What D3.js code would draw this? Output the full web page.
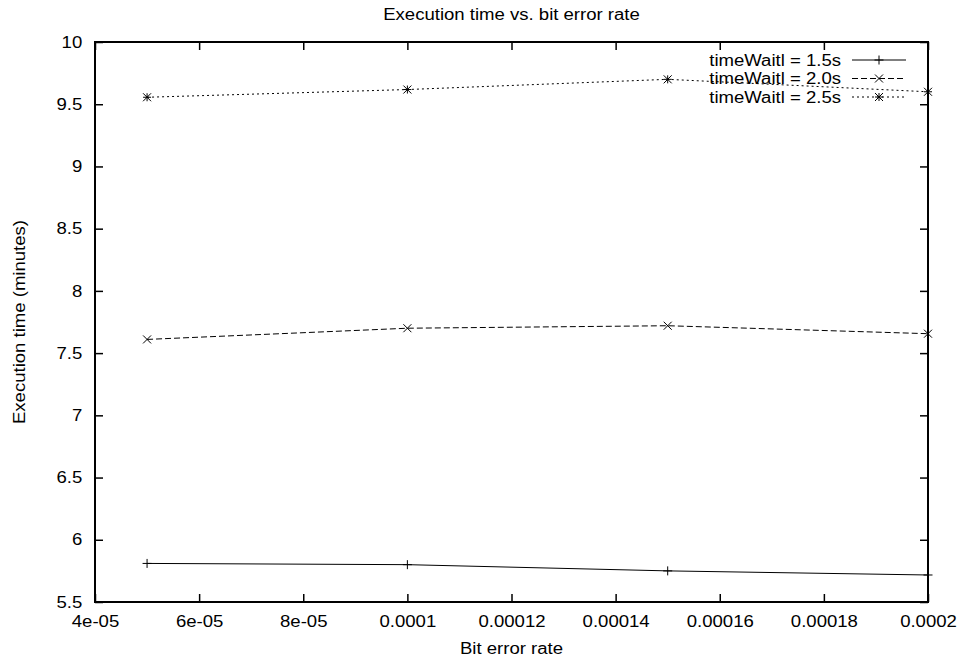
<!DOCTYPE html>
<html>
<head>
<meta charset="utf-8">
<script src="https://cdn.jsdelivr.net/npm/d3@7"></script>
<style>
  body { margin: 0; background: #fff; }
  text { font-family: "Liberation Sans", Arial, sans-serif; font-size: 16px; fill: #000; }
</style>
</head>
<body>
<div class="chart"></div>
<script>
var chartwidth = 959
var chartheight = 660
var margin = {top: 42, right: 31, bottom: 58, left: 95}
var plotw = chartwidth - margin.left - margin.right
var ploth = chartheight - margin.top - margin.bottom
var stretch = 1.16 // text in the picture is a bit wider than plain Arial

// data
var bitErrorRate = [5e-5, 1e-4, 1.5e-4, 2e-4]
var seriesNames = ['timeWaitl = 1.5s', 'timeWaitl = 2.0s', 'timeWaitl = 2.5s']
var wait15 = [5.81, 5.80, 5.75, 5.717]
var wait20 = [7.61, 7.70, 7.72, 7.656]
var wait25 = [9.556, 9.618, 9.70, 9.60]

var xTicks = [4e-5, 6e-5, 8e-5, 1e-4, 1.2e-4, 1.4e-4, 1.6e-4, 1.8e-4, 2e-4]
var xTickLabels = ['4e-05', '6e-05', '8e-05', '0.0001', '0.00012', '0.00014', '0.00016', '0.00018', '0.0002']
var yTicks = [5.5, 6, 6.5, 7, 7.5, 8, 8.5, 9, 9.5, 10]
var yTickLabels = ['5.5', '6', '6.5', '7', '7.5', '8', '8.5', '9', '9.5', '10']

var series = [
    {name: seriesNames[0], values: wait15, dash: null, marker: 'plus'},
    {name: seriesNames[1], values: wait20, dash: '6,3', marker: 'cross'},
    {name: seriesNames[2], values: wait25, dash: '2,3', marker: 'star'}
]

var svg = d3.select('.chart')
    .append('svg')
    .attr('width', chartwidth)
    .attr('height', chartheight)

var g = svg.append('g')
    .attr('transform', `translate(${margin.left},${margin.top})`)

var xscale = d3.scaleLinear().domain([4e-5, 2e-4]).range([0, plotw])
var yscale = d3.scaleLinear().domain([5.5, 10]).range([ploth, 0])

function styleAxis(ax) {
    ax.select('.domain').remove()
    ax.selectAll('.tick line').attr('stroke', '#000').attr('stroke-width', 1.5)
    ax.selectAll('text').attr('font-size', null).attr('font-family', null)
}

var xaxis = g.append('g')
    .attr('transform', `translate(0,${ploth})`)
    .call(d3.axisBottom(xscale).tickValues(xTicks).tickSize(-8).tickPadding(14)
        .tickFormat((d, i) => xTickLabels[i]))
styleAxis(xaxis)
xaxis.selectAll('text').attr('transform', `scale(${stretch},1)`)

var yaxis = g.append('g')
    .call(d3.axisLeft(yscale).tickValues(yTicks).tickSize(-8).tickPadding(11)
        .tickFormat((d, i) => yTickLabels[i]))
styleAxis(yaxis)
yaxis.selectAll('text').attr('transform', `scale(${stretch},1)`)

var topaxis = g.append('g')
    .call(d3.axisTop(xscale).tickValues(xTicks).tickSize(-8).tickFormat(''))
styleAxis(topaxis)

var rightaxis = g.append('g')
    .attr('transform', `translate(${plotw},0)`)
    .call(d3.axisRight(yscale).tickValues(yTicks).tickSize(-8).tickFormat(''))
styleAxis(rightaxis)

g.append('rect')
    .attr('width', plotw)
    .attr('height', ploth)
    .attr('fill', 'none')
    .attr('stroke', '#000')
    .attr('stroke-width', 2)

// markers, gnuplot style
function markerPath(type, s) {
    var p = d3.path()
    if (type == 'plus' || type == 'star') {
        p.moveTo(-s, 0); p.lineTo(s, 0)
        p.moveTo(0, -s); p.lineTo(0, s)
    }
    if (type == 'cross' || type == 'star') {
        p.moveTo(-s, -s); p.lineTo(s, s)
        p.moveTo(-s, s); p.lineTo(s, -s)
    }
    return p.toString()
}

var line = d3.line()
    .x((d, i) => xscale(bitErrorRate[i]))
    .y(d => yscale(d))

var lines = g.append('g').attr('class', 'lines')

series.forEach(s => {
    lines.append('path')
        .datum(s.values)
        .attr('d', line)
        .attr('fill', 'none')
        .attr('stroke', '#000')
        .attr('stroke-width', 1)
        .attr('stroke-dasharray', s.dash)

    lines.selectAll(null)
        .data(s.values)
        .enter().append('path')
        .attr('transform', (d, i) => `translate(${xscale(bitErrorRate[i])},${yscale(d)})`)
        .attr('d', markerPath(s.marker, s.marker == 'plus' ? 4.5 : 4))
        .attr('stroke', '#000')
        .attr('stroke-width', 1)
        .attr('fill', 'none')
})

// legend
var legend = svg.append('g').attr('class', 'legend')
series.forEach((s, i) => {
    var ly = 60 + i * 18.5
    legend.append('text')
        .attr('transform', `translate(841,${ly}) scale(${stretch},1)`)
        .attr('text-anchor', 'end')
        .attr('dy', '0.36em')
        .text(s.name)
    legend.append('line')
        .attr('x1', 852).attr('x2', 906)
        .attr('y1', ly).attr('y2', ly)
        .attr('stroke', '#000')
        .attr('stroke-width', 1)
        .attr('stroke-dasharray', s.dash)
    legend.append('path')
        .attr('transform', `translate(879,${ly})`)
        .attr('d', markerPath(s.marker, s.marker == 'plus' ? 4.5 : 4))
        .attr('stroke', '#000')
        .attr('fill', 'none')
})

// titles
svg.append('text')
    .attr('transform', `translate(${margin.left + plotw / 2},20) scale(${stretch},1)`)
    .attr('text-anchor', 'middle')
    .text('Execution time vs. bit error rate')

svg.append('text')
    .attr('transform', `translate(${margin.left + plotw / 2},654) scale(${stretch},1)`)
    .attr('text-anchor', 'middle')
    .text('Bit error rate')

svg.append('text')
    .attr('transform', `translate(25,${margin.top + ploth / 2}) rotate(-90) scale(${stretch},1)`)
    .attr('text-anchor', 'middle')
    .text('Execution time (minutes)')
</script>
</body>
</html>
